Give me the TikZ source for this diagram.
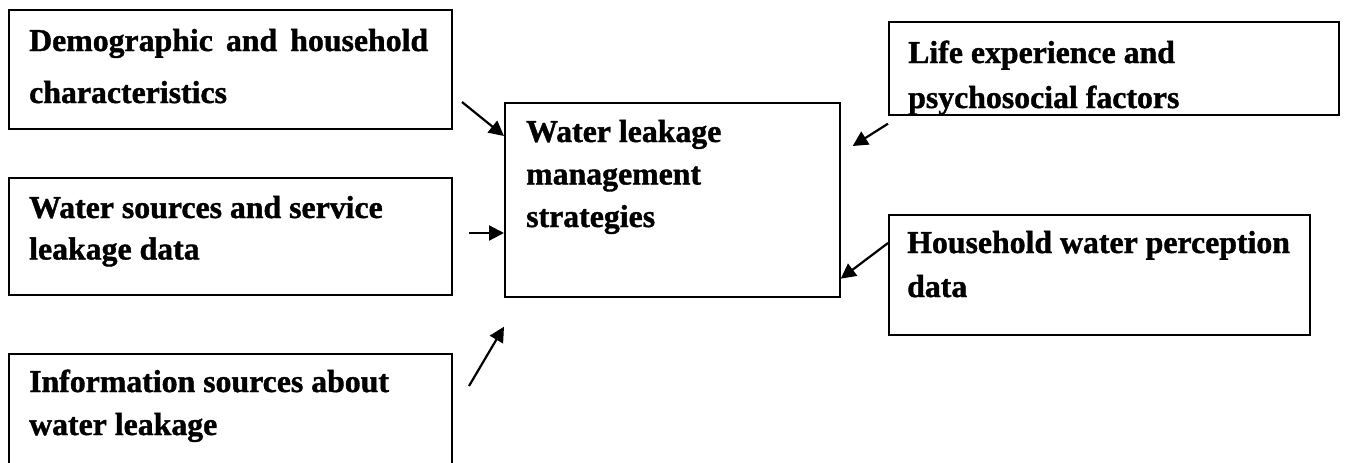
\documentclass[tikz,border=0pt]{standalone}
\usepackage{fontspec}
\setmainfont[BoldFeatures={FakeBold=1.2}]{Liberation Serif}
\usetikzlibrary{arrows.meta}
\begin{document}
\begin{tikzpicture}[x=1pt,y=-1pt,
  box/.style={draw, line width=1.7pt, anchor=north west, inner sep=0pt},
  txt/.style={anchor=base west, inner sep=0pt, font=\fontsize{31.8}{40}\selectfont\bfseries},
  arr/.style={line width=2.2pt, -{Triangle[length=15pt,width=15pt]}}]
\clip (0,0) rectangle (1361,463);
\fill[white] (0,0) rectangle (1361,463);
% boxes
\node[box, minimum width=443pt, minimum height=119pt] (d) at (8,9) {};
\node[box, minimum width=443pt, minimum height=117pt] (w) at (8,177) {};
\node[box, minimum width=443pt, minimum height=140pt] (i) at (8,353) {};
\node[box, minimum width=335pt, minimum height=194pt] (c) at (504,102) {};
\node[box, minimum width=450pt, minimum height=93pt] (l) at (888,21) {};
\node[box, minimum width=421pt, minimum height=120pt] (h) at (888,214) {};
% texts
\node[txt] (dt) at (29,51) {\vtop{\baselineskip=52pt\hbox to 399pt{Demographic and household}\hbox{characteristics}}};
\node[txt] (wt) at (29,218) {\vtop{\baselineskip=41.5pt\hbox{Water sources and service}\hbox{leakage data}}};
\node[txt] (it) at (29,392) {\vtop{\baselineskip=43pt\hbox{Information sources about}\hbox{water leakage}}};
\node[txt] (ct) at (526,142) {\vtop{\baselineskip=42.5pt\hbox{Water leakage}\hbox{management}\hbox{strategies}}};
\begin{scope}
  \clip ([shift={(1pt,-1pt)}]l.north west) rectangle ([shift={(-1pt,2pt)}]l.south east);
  \node[txt] (lt) at (908,63) {\vtop{\baselineskip=45pt\hbox{Life experience and}\hbox{psychosocial factors}}};
\end{scope}
\node[txt] (ht) at (907,253) {\vtop{\baselineskip=44pt\hbox{Household water perception}\hbox{data}}};
% arrow start points
\coordinate (s1) at (462,102);
\coordinate (s2) at (469,233);
\coordinate (s3) at (469,386);
\coordinate (s4) at ([yshift=-8pt]l.south west);
\coordinate (s5) at ([yshift=-29pt]h.north west);
% arrows
\draw[arr] (s1) -- ([yshift=-34pt]c.north west);
\draw[arr] (s2) -- ([yshift=-131pt]c.north west);
\draw[arr] (s3) -- ([yshift=-29pt]c.south west);
\draw[arr] (s4) -- ([xshift=12pt,yshift=-44pt]c.north east);
\draw[arr] (s5) -- ([yshift=19pt]c.south east);
\end{tikzpicture}
\end{document}
